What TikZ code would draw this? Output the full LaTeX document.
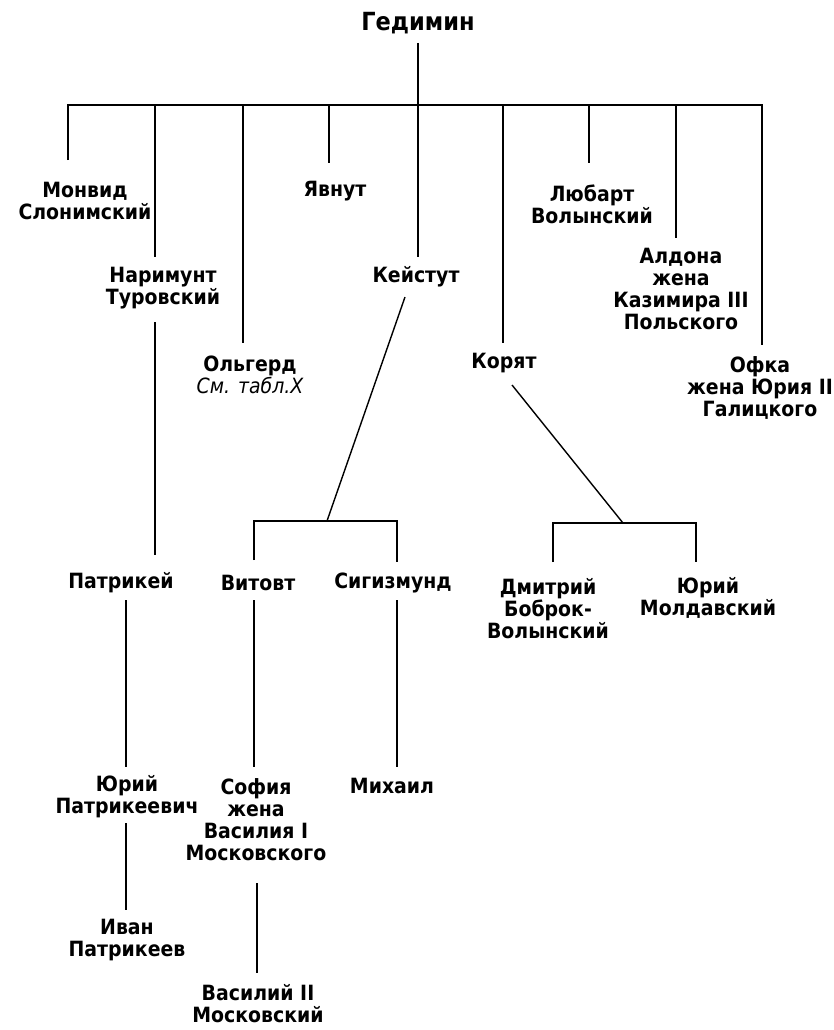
\documentclass[tikz,border=0pt]{standalone}
\usepackage{fontspec}
\setmainfont{DejaVu Sans}[FakeStretch=0.9]
\begin{document}
\begin{tikzpicture}[x=1pt,y=-1pt,
  person/.style={font=\bfseries\fontsize{21}{22}\selectfont, align=center, inner sep=0pt},
  title/.style={font=\bfseries\fontsize{25}{26}\selectfont, inner sep=0pt},
  ln/.style={line width=1.4pt}]
\useasboundingbox (0,0) rectangle (834,1030);
% persons
\node[title] (ged) at (418,23) {Гедимин};
\node[person] (monvid) at (85,201) {Монвид\\Слонимский};
\node[person] (narimunt) at (163,288) {Наримунт\\Туровский};
\node[person] (olgerd) at (250,375) {Ольгерд\\{\mdseries\itshape См. табл.Х}};
\node[person] (yavnut) at (335,191) {Явнут};
\node[person] (keistut) at (416,277) {Кейстут};
\node[person] (koryat) at (504,363) {Корят};
\node[person] (lyubart) at (592,204) {Любарт\\Волынский};
\node[person] (aldona) at (681,289) {Алдона\\жена\\Казимира III\\Польского};
\node[person] (ofka) at (760,388) {Офка\\жена Юрия II\\Галицкого};
\node[person] (patrikei) at (121,583) {Патрикей};
\node[person] (vitovt) at (258,583) {Витовт};
\node[person] (sigizmund) at (393,583) {Сигизмунд};
\node[person] (dmitriy) at (548,609) {Дмитрий\\Боброк-\\Волынский};
\node[person] (yuriym) at (708,598) {Юрий\\Молдавский};
\node[person] (yuriyp) at (127,797) {Юрий\\Патрикеевич};
\node[person] (sofia) at (256,820) {София\\жена\\Василия I\\Московского};
\node[person] (mikhail) at (392,786) {Михаил};
\node[person] (ivan) at (127,940) {Иван\\Патрикеев};
\node[person] (vasiliy) at (258,1004) {Василий II\\Московский};
% bus and drops
\coordinate (g0) at (418,43);
\coordinate (bL) at (68,105);
\coordinate (bR) at (762,105);
\coordinate (e1) at (68,160);
\coordinate (t2) at (155,105); \coordinate (e2) at (155,257);
\coordinate (t3) at (243,105); \coordinate (e3) at (243,343);
\coordinate (t4) at (329,105); \coordinate (e4) at (329,163);
\coordinate (e5) at (418,257);
\coordinate (t6) at (503,105); \coordinate (e6) at (503,343);
\coordinate (t7) at (589,105); \coordinate (e7) at (589,163);
\coordinate (t8) at (676,105); \coordinate (e8) at (676,238);
\coordinate (e9) at (762,345);
\draw[ln] (e1) -- (bL) -- (bR) -- (e9);
\draw[ln] (g0) -- (e5);
\draw[ln] (t2) -- (e2);
\draw[ln] (t3) -- (e3);
\draw[ln] (t4) -- (e4);
\draw[ln] (t6) -- (e6);
\draw[ln] (t7) -- (e7);
\draw[ln] (t8) -- (e8);
% Narimunt -> Patrikei
\coordinate (n1) at (155,322); \coordinate (n2) at (155,555);
\draw[ln] (n1) -- (n2);
% Patrikei -> Yuriy -> Ivan
\coordinate (p1) at (126,600); \coordinate (p2) at (126,767);
\draw[ln] (p1) -- (p2);
\coordinate (p3) at (126,823); \coordinate (p4) at (126,910);
\draw[ln] (p3) -- (p4);
% Keistut bracket
\coordinate (k1) at (405,297); \coordinate (k2) at (327,521);
\coordinate (k3) at (254,521); \coordinate (k4) at (397,521);
\coordinate (k5) at (254,560); \coordinate (k6) at (397,562);
\draw[ln] (k1) -- (k2);
\draw[ln] (k5) -- (k3) -- (k4) -- (k6);
% Vitovt -> Sofia -> Vasiliy
\coordinate (v1) at (254,600); \coordinate (v2) at (254,767);
\draw[ln] (v1) -- (v2);
\coordinate (v3) at (257,883); \coordinate (v4) at (257,973);
\draw[ln] (v3) -- (v4);
% Sigizmund -> Mikhail
\coordinate (s1) at (397,600); \coordinate (s2) at (397,767);
\draw[ln] (s1) -- (s2);
% Koryat bracket
\coordinate (c1) at (512,385); \coordinate (c2) at (623,523);
\coordinate (c3) at (553,523); \coordinate (c4) at (696,523);
\coordinate (c5) at (553,562); \coordinate (c6) at (696,562);
\draw[ln] (c1) -- (c2);
\draw[ln] (c5) -- (c3) -- (c4) -- (c6);
\end{tikzpicture}
\end{document}
